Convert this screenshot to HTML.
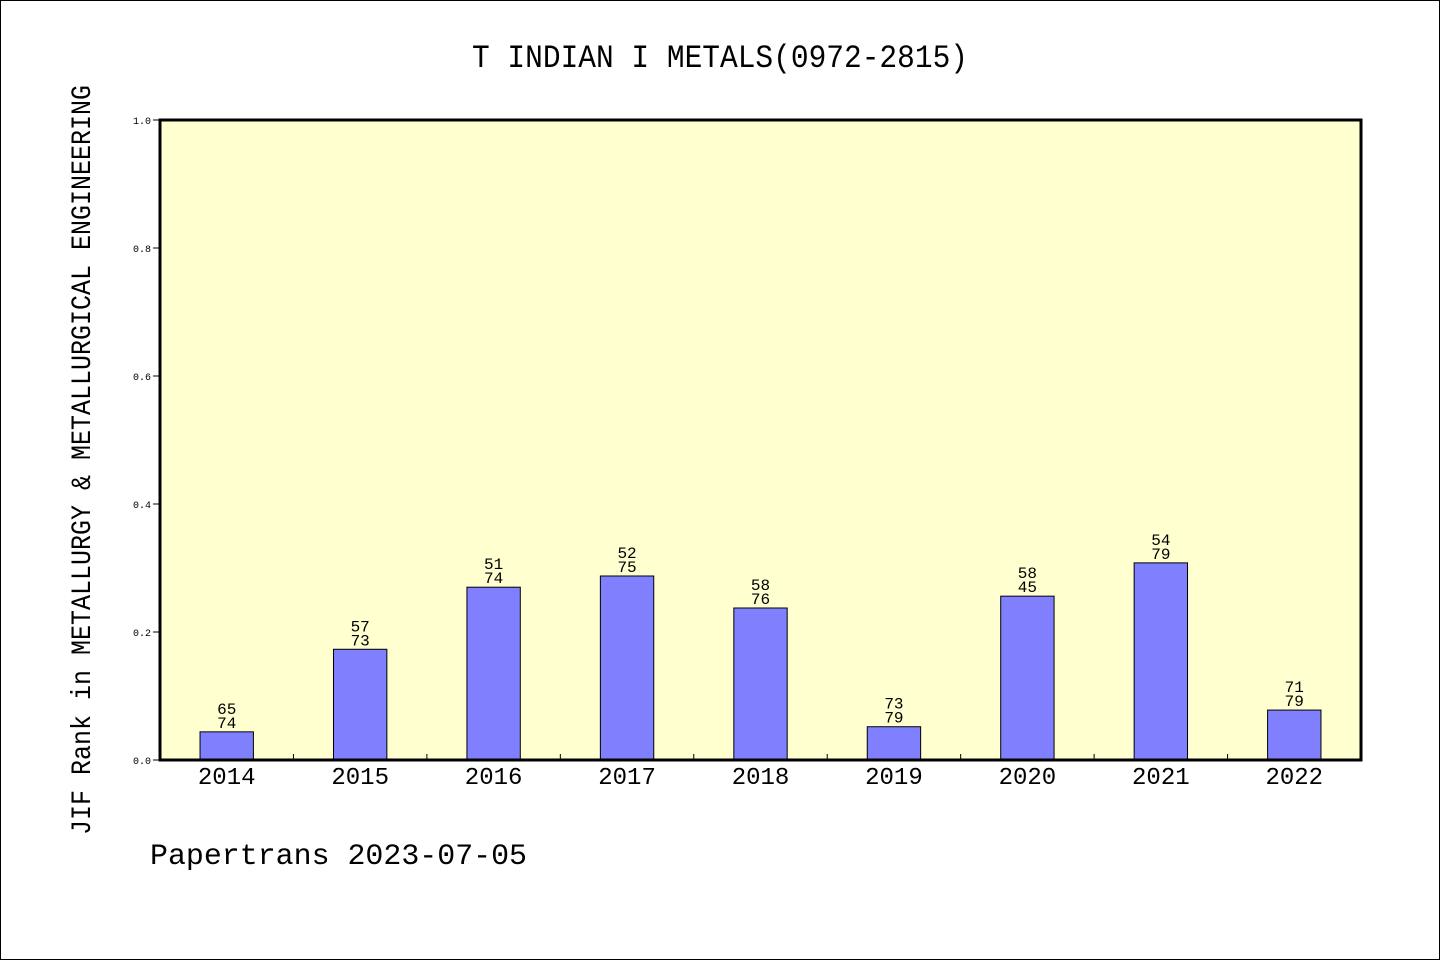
<!DOCTYPE html>
<html><head><meta charset="utf-8"><style>
html,body{margin:0;padding:0;background:#fff;}
svg{display:block;font-family:"Liberation Mono","Noto Sans CJK SC",monospace;}
</style></head><body>
<svg id="chart" width="1440" height="960" viewBox="0 0 1440 960" xmlns="http://www.w3.org/2000/svg">
<rect x="0.5" y="0.5" width="1439" height="959" fill="#fff" stroke="#000"/>
<text x="720" y="67" text-anchor="middle" font-size="32" textLength="496" lengthAdjust="spacingAndGlyphs">T INDIAN I METALS(0972-2815)</text>
<rect x="160" y="120" width="1201" height="640" fill="#ffffd0"/>
<g id="yaxis"></g>
<g id="bars"></g>
<g id="xaxis"></g>
<rect x="160" y="120" width="1201" height="640" fill="none" stroke="#000" stroke-width="3"/>
<text transform="translate(90,460) rotate(-90)" text-anchor="middle" font-size="28" textLength="750" lengthAdjust="spacingAndGlyphs">JIF Rank in METALLURGY &amp; METALLURGICAL ENGINEERING</text>
<text x="150" y="864" font-size="30" textLength="377" lengthAdjust="spacingAndGlyphs">Papertrans 2023-07-05</text>
</svg>
<script>
const categories = ["2014","2015","2016","2017","2018","2019","2020","2021","2022"];
const values = [0.044,0.173,0.27,0.2875,0.2375,0.052,0.256,0.308,0.078];
const rankLabels = ["65","57","51","52","58","73","58","54","71"];
const totalLabels = ["74","73","74","75","76","79","45","79","79"];
const yTicks = [0,0.2,0.4,0.6,0.8,1.0];
const yTickLabels = ["0.0","0.2","0.4","0.6","0.8","1.0"];

const NS="http://www.w3.org/2000/svg";
const X0=160,X1=1361,Y0=760,Y1=120;
const slot=(X1-X0)/categories.length;
const y=v=>Y0-(v)*(Y0-Y1);
const xc=i=>X0+slot*(i+0.5);
function mk(tag,attrs,parent,txt){const e=document.createElementNS(NS,tag);for(const k in attrs)e.setAttribute(k,attrs[k]);if(txt!==undefined)e.textContent=txt;parent.appendChild(e);return e;}
const ya=document.getElementById('yaxis'),ba=document.getElementById('bars'),xa=document.getElementById('xaxis');
yTicks.forEach((t,i)=>{
  const l=mk('line',{x1:X0-7,x2:X0,y1:y(t),y2:y(t),stroke:'#000'},ya);
  
  
  const tx=mk('text',{x:X0-9,y:y(t)+4,'text-anchor':'end','font-size':10},ya,yTickLabels[i]);
  
  
});
const bw=slot*0.4;
categories.forEach((c,i)=>{
  const top=y(values[i]);
  const r=mk('rect',{x:xc(i)-bw/2,y:top,width:bw,height:Y0-top,fill:'#8080ff',stroke:'#000','stroke-width':1},ba);
  
  
  const t1=mk('text',{x:xc(i),y:top-18,'text-anchor':'middle','font-size':16},ba,rankLabels[i]);
  
  
  const t2=mk('text',{x:xc(i),y:top-4,'text-anchor':'middle','font-size':16},ba,totalLabels[i]);
  
  
  const xl=mk('text',{x:xc(i),y:784,'text-anchor':'middle','font-size':24},xa,c);
  
  
  if(i>0){
    const tk=mk('line',{x1:X0+slot*i,x2:X0+slot*i,y1:Y0,y2:Y0-6,stroke:'#000'},xa);
    
    
  }
});
</script>
</body></html>
